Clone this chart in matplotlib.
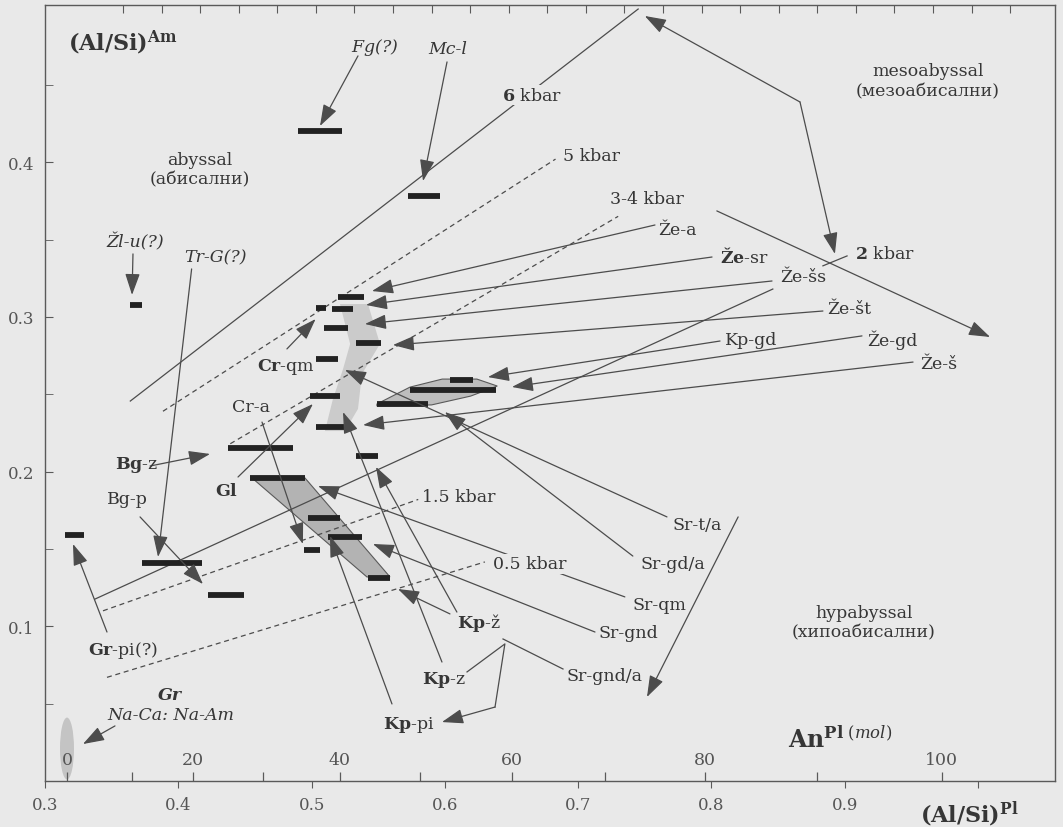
import numpy as np
import matplotlib.pyplot as plt
from matplotlib.patches import Polygon, Ellipse

plt.rcParams['font.family'] = ['DejaVu Serif']
plt.rcParams['mathtext.fontset'] = 'dejavuserif'

BG = '#e9e9e9'
INK = '#363636'
LINE = '#4c4c4c'

# ---- data ----
# horizontal bars: (Al/Si)Am level and (Al/Si)Pl range
bar_y = [0.420, 0.378, 0.308, 0.313, 0.306, 0.305, 0.293, 0.283, 0.273, 0.259, 0.253, 0.244,
         0.249, 0.229, 0.210, 0.215, 0.196, 0.170, 0.158, 0.149, 0.131, 0.141, 0.120, 0.159]
bar_x0 = [0.490, 0.572, 0.364, 0.520, 0.503, 0.515, 0.509, 0.533, 0.503, 0.604, 0.574, 0.549,
          0.499, 0.503, 0.533, 0.437, 0.454, 0.497, 0.512, 0.494, 0.542, 0.373, 0.422, 0.315]
bar_x1 = [0.523, 0.596, 0.373, 0.539, 0.511, 0.531, 0.527, 0.552, 0.520, 0.621, 0.638, 0.587,
          0.521, 0.524, 0.550, 0.486, 0.495, 0.521, 0.538, 0.506, 0.559, 0.418, 0.449, 0.329]

# isobars (kbar)
iso_x0 = [0.364, 0.3885, 0.439, 0.3375, 0.3435, 0.3465]
iso_y0 = [0.2456, 0.239, 0.218, 0.1176, 0.110, 0.067]
iso_x1 = [0.745, 0.683, 0.730, 0.846, 0.580, 0.630]
iso_y1 = [0.499, 0.402, 0.365, 0.318, 0.182, 0.1416]
iso_solid = [True, False, False, True, False, False]

# leaders with arrowheads: start (label side) -> tip
arr_x0 = [0.5348, 0.6016, 0.366, 0.410, 0.804, 0.7576, 0.8004, 0.8454, 0.8836, 0.8064, 0.9129,
          0.9512, 0.7666, 0.741, 0.735, 0.7126, 0.6038, 0.609, 0.5978, 0.5603, 0.4628, 0.4815,
          0.4448, 0.3788, 0.3713, 0.3465, 0.3525, 0.820, 0.8664, 0.8664]
arr_y0 = [0.4687, 0.4648, 0.3407, 0.331, 0.3685, 0.3594, 0.3387, 0.3232, 0.3038, 0.2844, 0.2877,
          0.2708, 0.1707, 0.1454, 0.119, 0.0963, 0.108, 0.1092, 0.0769, 0.0498, 0.232, 0.2793,
          0.1965, 0.2036, 0.1707, 0.0963, 0.0356, 0.1707, 0.4389, 0.4389]
arr_x1 = [0.5063, 0.5836, 0.3653, 0.3848, 1.009, 0.5453, 0.5408, 0.540, 0.561, 0.6323, 0.6503,
          0.5386, 0.525, 0.600, 0.5048, 0.546, 0.5648, 0.5483, 0.5236, 0.5138, 0.4935, 0.503,
          0.501, 0.4238, 0.4185, 0.321, 0.3285, 0.7516, 0.750, 0.8926]
arr_y1 = [0.4234, 0.3878, 0.3142, 0.1448, 0.287, 0.3167, 0.3077, 0.2954, 0.2818, 0.2611, 0.2547,
          0.2301, 0.2657, 0.2385, 0.1907, 0.1532, 0.1241, 0.203, 0.2385, 0.1584, 0.1532, 0.2986,
          0.2437, 0.2114, 0.1273, 0.1532, 0.0239, 0.0543, 0.4945, 0.3407]

# Kp evolution path and short Sr-gnd/a leader
path_x = [0.6166, 0.645, 0.6376, 0.5978]
path_y = [0.0705, 0.0886, 0.0478, 0.0381]
seg_x = [0.6886, 0.6436]
seg_y = [0.0724, 0.0918]
kbar2_x = [0.8836, 0.9017]
kbar2_y = [0.333, 0.3394]

# shaded fields
para_x = [0.4553, 0.495, 0.5588, 0.5415]
para_y = [0.1959, 0.1959, 0.1319, 0.1319]
lens_x = [0.549, 0.5738, 0.598, 0.624, 0.6393, 0.6193, 0.590, 0.549]
lens_y = [0.2437, 0.2546, 0.2598, 0.2598, 0.2553, 0.2488, 0.2431, 0.2424]
smear_x = [0.5213, 0.5423, 0.5513, 0.5378, 0.5348, 0.525, 0.510, 0.516, 0.5236, 0.5289]
smear_y = [0.3083, 0.3083, 0.2825, 0.2631, 0.2405, 0.2262, 0.2262, 0.2469, 0.2663, 0.2825]

# labels: text, x, y, ha, style
labels = [
    ('$\\mathit{Fg}$(?)', 0.5476, 0.475, 'center', 'italic'),
    ('Mc-l', 0.6023, 0.4732, 'center', 'italic'),
    ('Žl-u(?)', 0.3675, 0.349, 'center', 'italic'),
    ('Tr-G(?)', 0.4275, 0.3387, 'center', 'italic'),
    ('abyssal', 0.4163, 0.402, 'center', 'normal'),
    ('(абисални)', 0.4163, 0.389, 'center', 'normal'),
    ('mesoabyssal', 0.9624, 0.459, 'center', 'normal'),
    ('(мезоабисални)', 0.9624, 0.446, 'center', 'normal'),
    ('hypabyssal', 0.9144, 0.1092, 'center', 'normal'),
    ('(хипоабисални)', 0.9144, 0.0963, 'center', 'normal'),
    ('5 kbar', 0.6886, 0.404, 'left', 'normal'),
    ('3-4 kbar', 0.7239, 0.3762, 'left', 'normal'),
    ('$\\mathbf{2}$ kbar', 0.9077, 0.3407, 'left', 'normal'),
    ('1.5 kbar', 0.5828, 0.1842, 'left', 'normal'),
    ('Že-a', 0.7599, 0.3568, 'left', 'normal'),
    ('$\\mathbf{Že}$-sr', 0.8064, 0.3394, 'left', 'normal'),
    ('Že-šs', 0.8514, 0.3258, 'left', 'normal'),
    ('Že-št', 0.8866, 0.3051, 'left', 'normal'),
    ('Kp-gd', 0.8101, 0.2857, 'left', 'normal'),
    ('Že-gd', 0.9167, 0.2857, 'left', 'normal'),
    ('Že-š', 0.9564, 0.2696, 'left', 'normal'),
    ('Sr-t/a', 0.7711, 0.1661, 'left', 'normal'),
    ('Sr-gd/a', 0.7464, 0.1403, 'left', 'normal'),
    ('Sr-qm', 0.7404, 0.1144, 'left', 'normal'),
    ('Sr-gnd', 0.7149, 0.0963, 'left', 'normal'),
    ('Sr-gnd/a', 0.6916, 0.0679, 'left', 'normal'),
    ('$\\mathbf{Kp}$-ž', 0.6091, 0.1028, 'left', 'normal'),
    ('$\\mathbf{Kp}$-z', 0.5828, 0.0659, 'left', 'normal'),
    ('$\\mathbf{Kp}$-pi', 0.5536, 0.0368, 'left', 'normal'),
    ('$\\mathbf{Cr}$-qm', 0.459, 0.2683, 'left', 'normal'),
    ('Cr-a', 0.4403, 0.2418, 'left', 'normal'),
    ('$\\mathbf{Gl}$', 0.4275, 0.1875, 'left', 'normal'),
    ('$\\mathbf{Bg}$-z', 0.3525, 0.2049, 'left', 'normal'),
    ('Bg-p', 0.3465, 0.1823, 'left', 'normal'),
    ('$\\mathbf{Gr}$-pi(?)', 0.3323, 0.0853, 'left', 'normal'),
    ('Na-Ca: Na-Am', 0.3945, 0.0433, 'center', 'italic'),
]

al_ticks = [0.3, 0.4, 0.5, 0.6, 0.7, 0.8, 0.9, 1.0]
al_labels = ['0.3', '0.4', '0.5', '0.6', '0.7', '0.8', '0.9', '']
an_pos = [0.3165, 0.3653, 0.4111, 0.4635, 0.5213, 0.5813, 0.6503, 0.7201, 0.795, 0.8791, 0.9728]
an_lab = ['0', '', '20', '', '40', '', '60', '', '80', '', '100']

# ---- figure ----
fig = plt.figure(figsize=(10.63, 8.28), dpi=100, facecolor=BG)
ax = fig.add_axes([45/1063, 46/828, 1010/1063, 776/828], facecolor=BG)
ax.set_xlim(0.3, 1.0577)
ax.set_ylim(0, 0.5016)

# shaded fields
ax.add_patch(Polygon(list(zip(smear_x, smear_y)), closed=True, fc='#cbcbcb', ec='none', zorder=1))
ax.add_patch(Polygon(list(zip(para_x, para_y)), closed=True, fc='#b3b3b3', ec='#5a5a5a', lw=0.8, zorder=1))
ax.add_patch(Polygon(list(zip(lens_x, lens_y)), closed=True, fc='#bdbdbd', ec='#5a5a5a', lw=0.8, zorder=1))
ax.add_patch(Ellipse((0.3165, 0.021), 0.0105, 0.040, fc='#c4c4c4', ec='none', zorder=1))

# isobars
for i in range(len(iso_x0)):
    ls = '-' if iso_solid[i] else (0, (4, 3))
    ax.plot([iso_x0[i], iso_x1[i]], [iso_y0[i], iso_y1[i]], ls=ls, color=LINE, lw=0.9, zorder=2)
ax.plot(kbar2_x, kbar2_y, color=LINE, lw=0.9, zorder=2)

# bars
for y, a, b in zip(bar_y, bar_x0, bar_x1):
    ax.plot([a, b], [y, y], color='#222222', lw=4.2, solid_capstyle='butt', zorder=3)

# leaders
head = dict(arrowstyle='-|>,head_length=1.1,head_width=0.38', mutation_scale=12, lw=0.9,
            color=LINE, shrinkA=0, shrinkB=0)
for x0, y0, x1, y1 in zip(arr_x0, arr_y0, arr_x1, arr_y1):
    ax.annotate('', xy=(x1, y1), xytext=(x0, y0), arrowprops=head, zorder=3)
ax.plot(path_x[:3], path_y[:3], color=LINE, lw=0.9, zorder=3)
ax.annotate('', xy=(path_x[3], path_y[3]), xytext=(path_x[2], path_y[2]), arrowprops=head, zorder=3)
ax.plot(seg_x, seg_y, color=LINE, lw=0.9, zorder=3)

# labels
for t, x, y, ha, st in labels:
    ax.text(x, y, t, ha=ha, va='center', fontsize=12.5, style=st, color=INK, zorder=5)
ax.text(0.6653, 0.4434, '$\\mathbf{6}$ kbar', ha='center', va='center', fontsize=12.5, color=INK,
        zorder=5, bbox=dict(fc=BG, ec='none', pad=1))
ax.text(0.636, 0.1403, '0.5 kbar', ha='left', va='center', fontsize=12.5, color=INK,
        zorder=5, bbox=dict(fc=BG, ec='none', pad=1))
ax.text(0.3938, 0.0562, 'Gr', ha='center', va='center', fontsize=12.5, style='italic',
        weight='bold', color=INK, zorder=5)
ax.text(0.3173, 0.478, '$\\mathbf{(Al/Si)^{Am}}$', ha='left', va='center', fontsize=16, color=INK)
ax.text(0.8574, 0.027, '$\\mathbf{An}^{\\mathbf{Pl}\\ \\mathbf{\\mathit{(mol)}}}$', ha='left',
        va='center', fontsize=17, color=INK)
ax.text(0.9565, -0.021, '$\\mathbf{(Al/Si)^{Pl}}$', ha='left', va='center', fontsize=16,
        color=INK, clip_on=False)

# axes decoration
for s in ax.spines.values():
    s.set_color('#5a5a5a')
    s.set_linewidth(1.0)
ax.set_xticks(al_ticks, al_labels)
ax.tick_params(axis='x', direction='out', length=5, pad=6, labelsize=12, colors='#5a5a5a',
               labelcolor='#555555')
ax.set_yticks([0.1, 0.2, 0.3, 0.4], ['0.1', '0.2', '0.3', '0.4'])
ax.set_yticks(np.arange(0.05, 0.5, 0.1), minor=True)
ax.tick_params(axis='y', which='both', direction='in', length=6, labelsize=12,
               colors='#5a5a5a', labelcolor='#555555', pad=8)

# plagioclase An scale along the bottom, inside
xt = ax.get_xaxis_transform()
ax.vlines(an_pos, 0, 0.011, transform=xt, color='#5a5a5a', lw=0.9)
for p, l in zip(an_pos, an_lab):
    if l:
        ax.text(p, 0.0142, l, ha='center', va='center', fontsize=12.5, color='#555555')
# top minor ticks
ax.vlines(np.linspace(0.3585, 1.024, 24), 0.99, 1.0, transform=xt, color='#5a5a5a', lw=0.8)

fig.savefig('out.png', dpi=100, facecolor=BG)
